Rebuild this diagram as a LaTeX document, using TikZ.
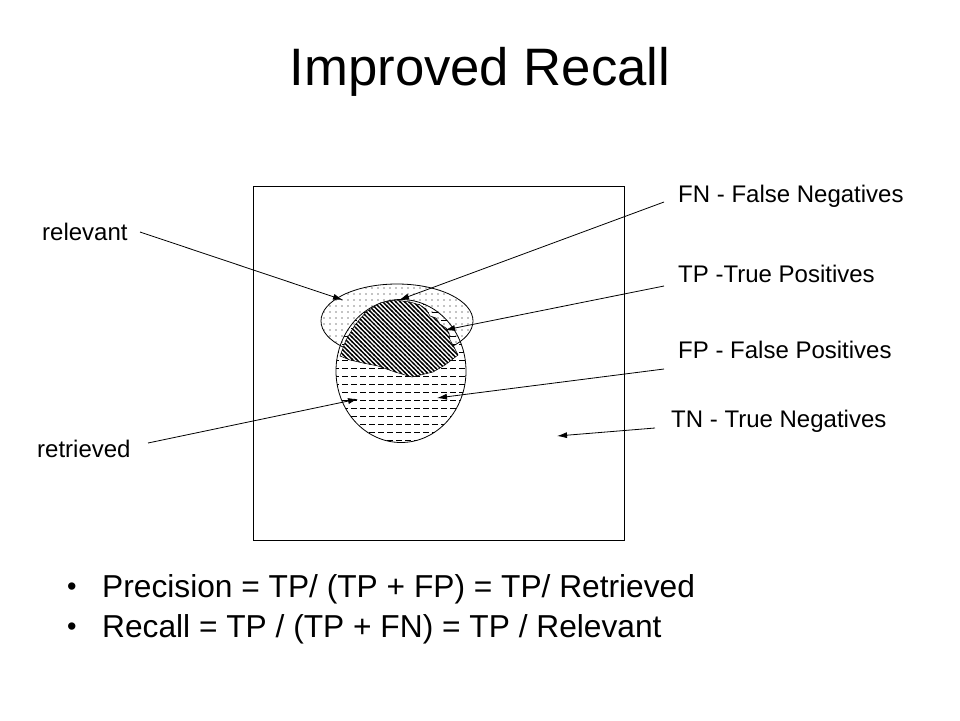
\documentclass[tikz,border=0pt]{standalone}
\usepackage{fontspec}
\setmainfont{Liberation Sans}
\usetikzlibrary{patterns,arrows.meta}
\pgfdeclarepatternformonly{reldots}{\pgfpoint{-1pt}{-1pt}}{\pgfpoint{1pt}{1pt}}{\pgfpoint{6pt}{6pt}}{\pgfpathcircle{\pgfpointorigin}{0.7pt}\pgfusepath{fill}}
\pgfdeclarepatternformonly{retdashes}{\pgfpoint{0pt}{-1pt}}{\pgfpoint{9pt}{1pt}}{\pgfpoint{9pt}{8pt}}{\pgfsetlinewidth{0.9pt}\pgfpathmoveto{\pgfpoint{0pt}{0pt}}\pgfpathlineto{\pgfpoint{5.5pt}{0pt}}\pgfusepath{stroke}}
\pgfdeclarepatternformonly{tphatch}{\pgfpoint{-1pt}{-1pt}}{\pgfpoint{5.5pt}{5.5pt}}{\pgfpoint{4.4pt}{4.4pt}}{\pgfsetlinewidth{1.4pt}\pgfpathmoveto{\pgfpoint{-0.5pt}{4.9pt}}\pgfpathlineto{\pgfpoint{4.9pt}{-0.5pt}}\pgfusepath{stroke}}
\newcommand\tpregionpath{(340,356) -- (346,340) -- (355,325) -- (366,312) -- (380,303) -- (395,300) -- (410,302) -- (420,305) -- (426,309) -- (430,316) -- (436,318) -- (440,324) -- (446,328) -- (449,333) -- (450,340) -- (453,345) -- (458,355) -- (445,365) -- (433,372) -- (412,377) -- (395,372) -- (378,366) -- (363,363) -- (350,360) -- cycle}
\begin{document}
\begin{tikzpicture}[x=1pt,y=-1pt,
  lbl/.style={anchor=base west,inner sep=0pt,font=\fontsize{24}{28}\selectfont},
  bul/.style={anchor=base west,inner sep=0pt,font=\fontsize{31.7}{36}\selectfont},
  bulletmark/.style={anchor=base west,inner sep=0pt,font=\fontsize{27}{30}\selectfont},
  pointer/.style={-{Latex[length=10pt,width=6pt]},line width=0.8pt},
  outline/.style={draw,line width=0.8pt}]
\useasboundingbox[fill=white] (0,0) rectangle (960,720);
% title
\node[anchor=base,inner sep=0pt,font=\fontsize{52.7}{60}\selectfont] (title) at (480,85) {Improved Recall};
% universe square
\draw[line width=0.9pt] (253,186) rectangle (624,540);
% patterned sets
\path[pattern=reldots] (397,321) ellipse [x radius=76, y radius=37];
\path[pattern=retdashes] (401,371) ellipse [x radius=65, y radius=71.5];
\draw[outline] (397,321) ellipse [x radius=76, y radius=37];
\draw[outline] (401,371) ellipse [x radius=65, y radius=71.5];
\fill[white] \tpregionpath;
\path[pattern=tphatch] \tpregionpath;
\draw[line width=0.5pt] \tpregionpath;
% labels
\node[lbl] (rel) at (42,240) {relevant};
\node[lbl] (ret) at (37,457) {retrieved};
\node[lbl] (fn) at (678,202) {FN - False Negatives};
\node[lbl] (tp) at (678,282) {TP -True Positives};
\node[lbl] (fp) at (678,358) {FP - False Positives};
\node[lbl] (tn) at (671,427) {TN - True Negatives};
% connector ends
\coordinate (relS) at (140,232);
\coordinate (relE) at (343,300);
\coordinate (retS) at (148,443);
\coordinate (retE) at (358,399);
\coordinate (fnS) at (664,202);
\coordinate (fnE) at (399,300);
\coordinate (tpS) at (664,286);
\coordinate (tpE) at (445,330);
\coordinate (fpS) at (664,369);
\coordinate (fpE) at (437,398);
\coordinate (tnS) at (655,428);
\coordinate (tnE) at (557,436);
\draw[pointer] (relS) -- (relE);
\draw[pointer] (retS) -- (retE);
\draw[pointer] (fnS) -- (fnE);
\draw[pointer] (tpS) -- (tpE);
\draw[pointer] (fpS) -- (fpE);
\draw[pointer] (tnS) -- (tnE);
% bullets
\node[bulletmark] (b1) at (67,595) {•};
\node[bul] (p1) at (102,597) {Precision = TP/ (TP + FP) = TP/ Retrieved};
\node[bulletmark] (b2) at (67,635) {•};
\node[bul] (p2) at (102,637) {Recall = TP / (TP + FN) = TP / Relevant};
\end{tikzpicture}
\end{document}
